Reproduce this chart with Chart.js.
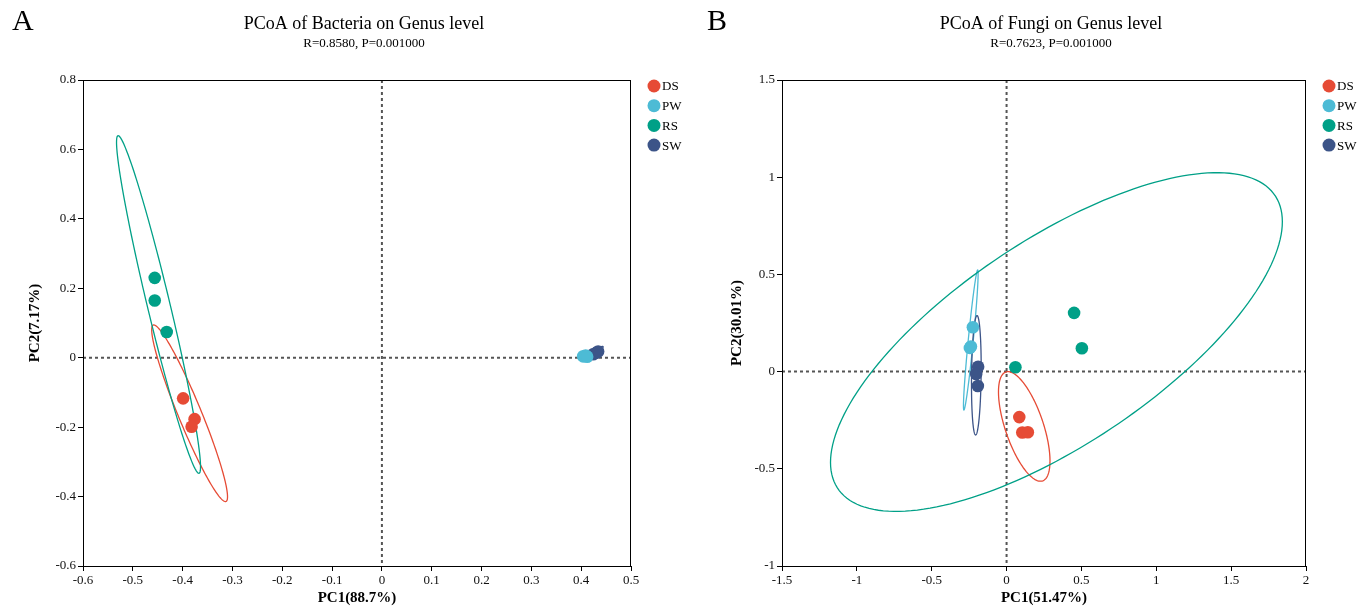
<!DOCTYPE html>
<html>
<head>
<meta charset="utf-8">
<script src="https://cdn.jsdelivr.net/npm/chart.js@4.4.0/dist/chart.umd.min.js"></script>
<style>
  body { margin: 0; background: #fff; width: 1369px; height: 607px; overflow: hidden; position: relative; }
  .panel { position: absolute; top: 0; height: 607px; }
  #pa { left: 0; width: 690px; }
  #pb { left: 690px; width: 679px; }
</style>
</head>
<body>
<div class="panel" id="pa"><canvas id="chartA"></canvas></div>
<div class="panel" id="pb"><canvas id="chartB"></canvas></div>
<script>
const groups = ['DS', 'PW', 'RS', 'SW'];
const groupColors = ['#E64B35', '#4DBBD5', '#00A087', '#3C5488'];

// panel A - bacteria, [PC1, PC2] per sample
const bacDS = [[-0.399, -0.117], [-0.376, -0.177], [-0.382, -0.199]];
const bacPW = [[0.404, 0.004], [0.409, 0.006], [0.412, 0.003]];
const bacRS = [[-0.456, 0.230], [-0.456, 0.165], [-0.432, 0.074]];
const bacSW = [[0.424, 0.010], [0.430, 0.014], [0.434, 0.018]];
const bacXTicks = [-0.6, -0.5, -0.4, -0.3, -0.2, -0.1, 0, 0.1, 0.2, 0.3, 0.4, 0.5];
const bacYTicks = [-0.6, -0.4, -0.2, 0, 0.2, 0.4, 0.6, 0.8];
// ellipses: [centre x, centre y, axis1 x, axis1 y, axis2 x, axis2 y]
const bacEllipses = [
  [-0.386, -0.160, 0.0761, -0.2403, 0, 0.0836],
  null,
  [-0.4484, 0.1533, 0.0843, -0.4674, 0, 0.1346],
  [0.4317, 0.0179, 0.012, 0.0144, 0.003, -0.003]
];

// panel B - fungi
const funDS = [[0.085, -0.234], [0.105, -0.313], [0.142, -0.312]];
const funPW = [[-0.225, 0.228], [-0.238, 0.129], [-0.245, 0.122]];
const funRS = [[0.059, 0.022], [0.451, 0.302], [0.503, 0.120]];
const funSW = [[-0.190, 0.025], [-0.203, -0.012], [-0.192, -0.074]];
const funXTicks = [-1.5, -1, -0.5, 0, 0.5, 1, 1.5, 2];
const funYTicks = [-1, -0.5, 0, 0.5, 1, 1.5];
const funEllipses = [
  [0.118, -0.282, 0.172, -0.1775, 0, 0.219],
  [-0.239, 0.1626, 0.046, 0.36, 0.0167, -0.0013],
  [0.333, 0.152, 1.509, 0.619, 0, 0.613],
  [-0.202, -0.019, 0.0047, 0.307, 0.032, 0]
];

const serif = '"Liberation Serif", "Times New Roman", serif';

const panelInfo = {
  chartA: { letter: 'A', letterX: 12, title: 'PCoA of Bacteria on Genus level', sub: 'R=0.8580, P=0.001000', ellipses: bacEllipses },
  chartB: { letter: 'B', letterX: 17, title: 'PCoA of Fungi on Genus level', sub: 'R=0.7623, P=0.001000', ellipses: funEllipses }
};

const pcoaDecor = {
  id: 'pcoaDecor',
  beforeDatasetsDraw(chart) {
    const info = panelInfo[chart.canvas.id];
    const { ctx, chartArea: a } = chart;
    const xs = chart.scales.x, ys = chart.scales.y;
    ctx.save();
    // dashed zero lines
    ctx.setLineDash([3, 3]);
    ctx.strokeStyle = '#555';
    ctx.lineWidth = 2;
    const x0 = xs.getPixelForValue(0), y0 = ys.getPixelForValue(0);
    ctx.beginPath();
    ctx.moveTo(x0, a.top); ctx.lineTo(x0, a.bottom);
    ctx.moveTo(a.left, y0); ctx.lineTo(a.right, y0);
    ctx.stroke();
    ctx.setLineDash([]);
    // confidence ellipses
    ctx.beginPath();
    ctx.rect(a.left, a.top, a.width, a.height);
    ctx.clip();
    ctx.lineWidth = 1.3;
    info.ellipses.forEach((e, i) => {
      if (!e) return;
      ctx.strokeStyle = groupColors[i];
      ctx.beginPath();
      for (let k = 0; k <= 180; k++) {
        const t = k / 180 * Math.PI * 2;
        const px = xs.getPixelForValue(e[0] + e[2] * Math.cos(t) + e[4] * Math.sin(t));
        const py = ys.getPixelForValue(e[1] + e[3] * Math.cos(t) + e[5] * Math.sin(t));
        if (k === 0) ctx.moveTo(px, py); else ctx.lineTo(px, py);
      }
      ctx.closePath();
      ctx.stroke();
    });
    ctx.restore();
  },
  afterDraw(chart) {
    const info = panelInfo[chart.canvas.id];
    const { ctx, chartArea: a } = chart;
    ctx.save();
    // frame
    ctx.strokeStyle = '#000';
    ctx.lineWidth = 1;
    ctx.strokeRect(a.left + 0.5, a.top + 0.5, a.width - 1, a.height);
    // titles
    ctx.fillStyle = '#000';
    ctx.textBaseline = 'middle';
    ctx.textAlign = 'left';
    ctx.font = '30px ' + serif;
    ctx.fillText(info.letter, info.letterX, 22);
    ctx.textAlign = 'center';
    const cx = (a.left + a.right) / 2 + 7;
    ctx.font = '18px ' + serif;
    ctx.fillText(info.title, cx, 24);
    ctx.font = '13px ' + serif;
    ctx.fillText(info.sub, cx, 44);
    // legend
    ctx.textAlign = 'left';
    ctx.font = '13px ' + serif;
    chart.data.datasets.forEach((ds, i) => {
      const lx = a.right + 23, ly = a.top + 6 + i * 19.7;
      ctx.fillStyle = ds.backgroundColor;
      ctx.beginPath();
      ctx.arc(lx, ly, 6.5, 0, Math.PI * 2);
      ctx.fill();
      ctx.fillStyle = '#000';
      ctx.fillText(ds.label, lx + 8, ly + 1);
    });
    ctx.restore();
  }
};

function makeDatasets(sets) {
  return sets.map((pts, i) => ({
    label: groups[i],
    data: pts.map(p => ({ x: p[0], y: p[1] })),
    backgroundColor: groupColors[i],
    borderColor: groupColors[i],
    borderWidth: 0,
    pointRadius: 6.3,
    pointHoverRadius: 6.3
  }));
}

function makeAxis(ticks, titleText, pos, fitSize, titlePad) {
  return {
    type: 'linear',
    position: pos,
    min: ticks[0],
    max: ticks[ticks.length - 1],
    afterBuildTicks: s => { s.ticks = ticks.map(v => ({ value: v })); },
    afterFit: s => { if (pos === 'left') s.width = fitSize; else s.height = fitSize; },
    grid: { drawOnChartArea: false, drawTicks: true, tickLength: 5, color: '#000', lineWidth: 1 },
    border: { color: '#000', width: 1 },
    ticks: {
      color: '#111',
      font: { family: serif, size: 13 },
      padding: 2,
      autoSkip: false,
      maxRotation: 0,
      callback: v => String(+v.toFixed(2))
    },
    title: {
      display: true,
      text: titleText,
      color: '#000',
      font: { family: serif, size: 15, weight: 'bold' },
      padding: pos === 'left' ? { top: titlePad, bottom: 0 } : { top: 0, bottom: 0 }
    }
  };
}

function makeChart(id, sets, xTicks, yTicks, xTitle, yTitle, yWidth, yPad, rightPad) {
  return new Chart(document.getElementById(id), {
    type: 'scatter',
    data: { datasets: makeDatasets(sets) },
    options: {
      responsive: true,
      maintainAspectRatio: false,
      animation: false,
      layout: { padding: { left: 0, right: rightPad, top: 80, bottom: 0 } },
      plugins: { legend: { display: false }, tooltip: { enabled: false } },
      scales: {
        x: makeAxis(xTicks, xTitle, 'bottom', 41, 0),
        y: makeAxis(yTicks, yTitle, 'left', yWidth, yPad)
      }
    },
    plugins: [pcoaDecor]
  });
}

makeChart('chartA', [bacDS, bacPW, bacRS, bacSW], bacXTicks, bacYTicks, 'PC1(88.7%)', 'PC2(7.17%)', 83, 26, 59);
makeChart('chartB', [funDS, funPW, funRS, funSW], funXTicks, funYTicks, 'PC1(51.47%)', 'PC2(30.01%)', 92, 38, 63);
</script>
</body>
</html>
